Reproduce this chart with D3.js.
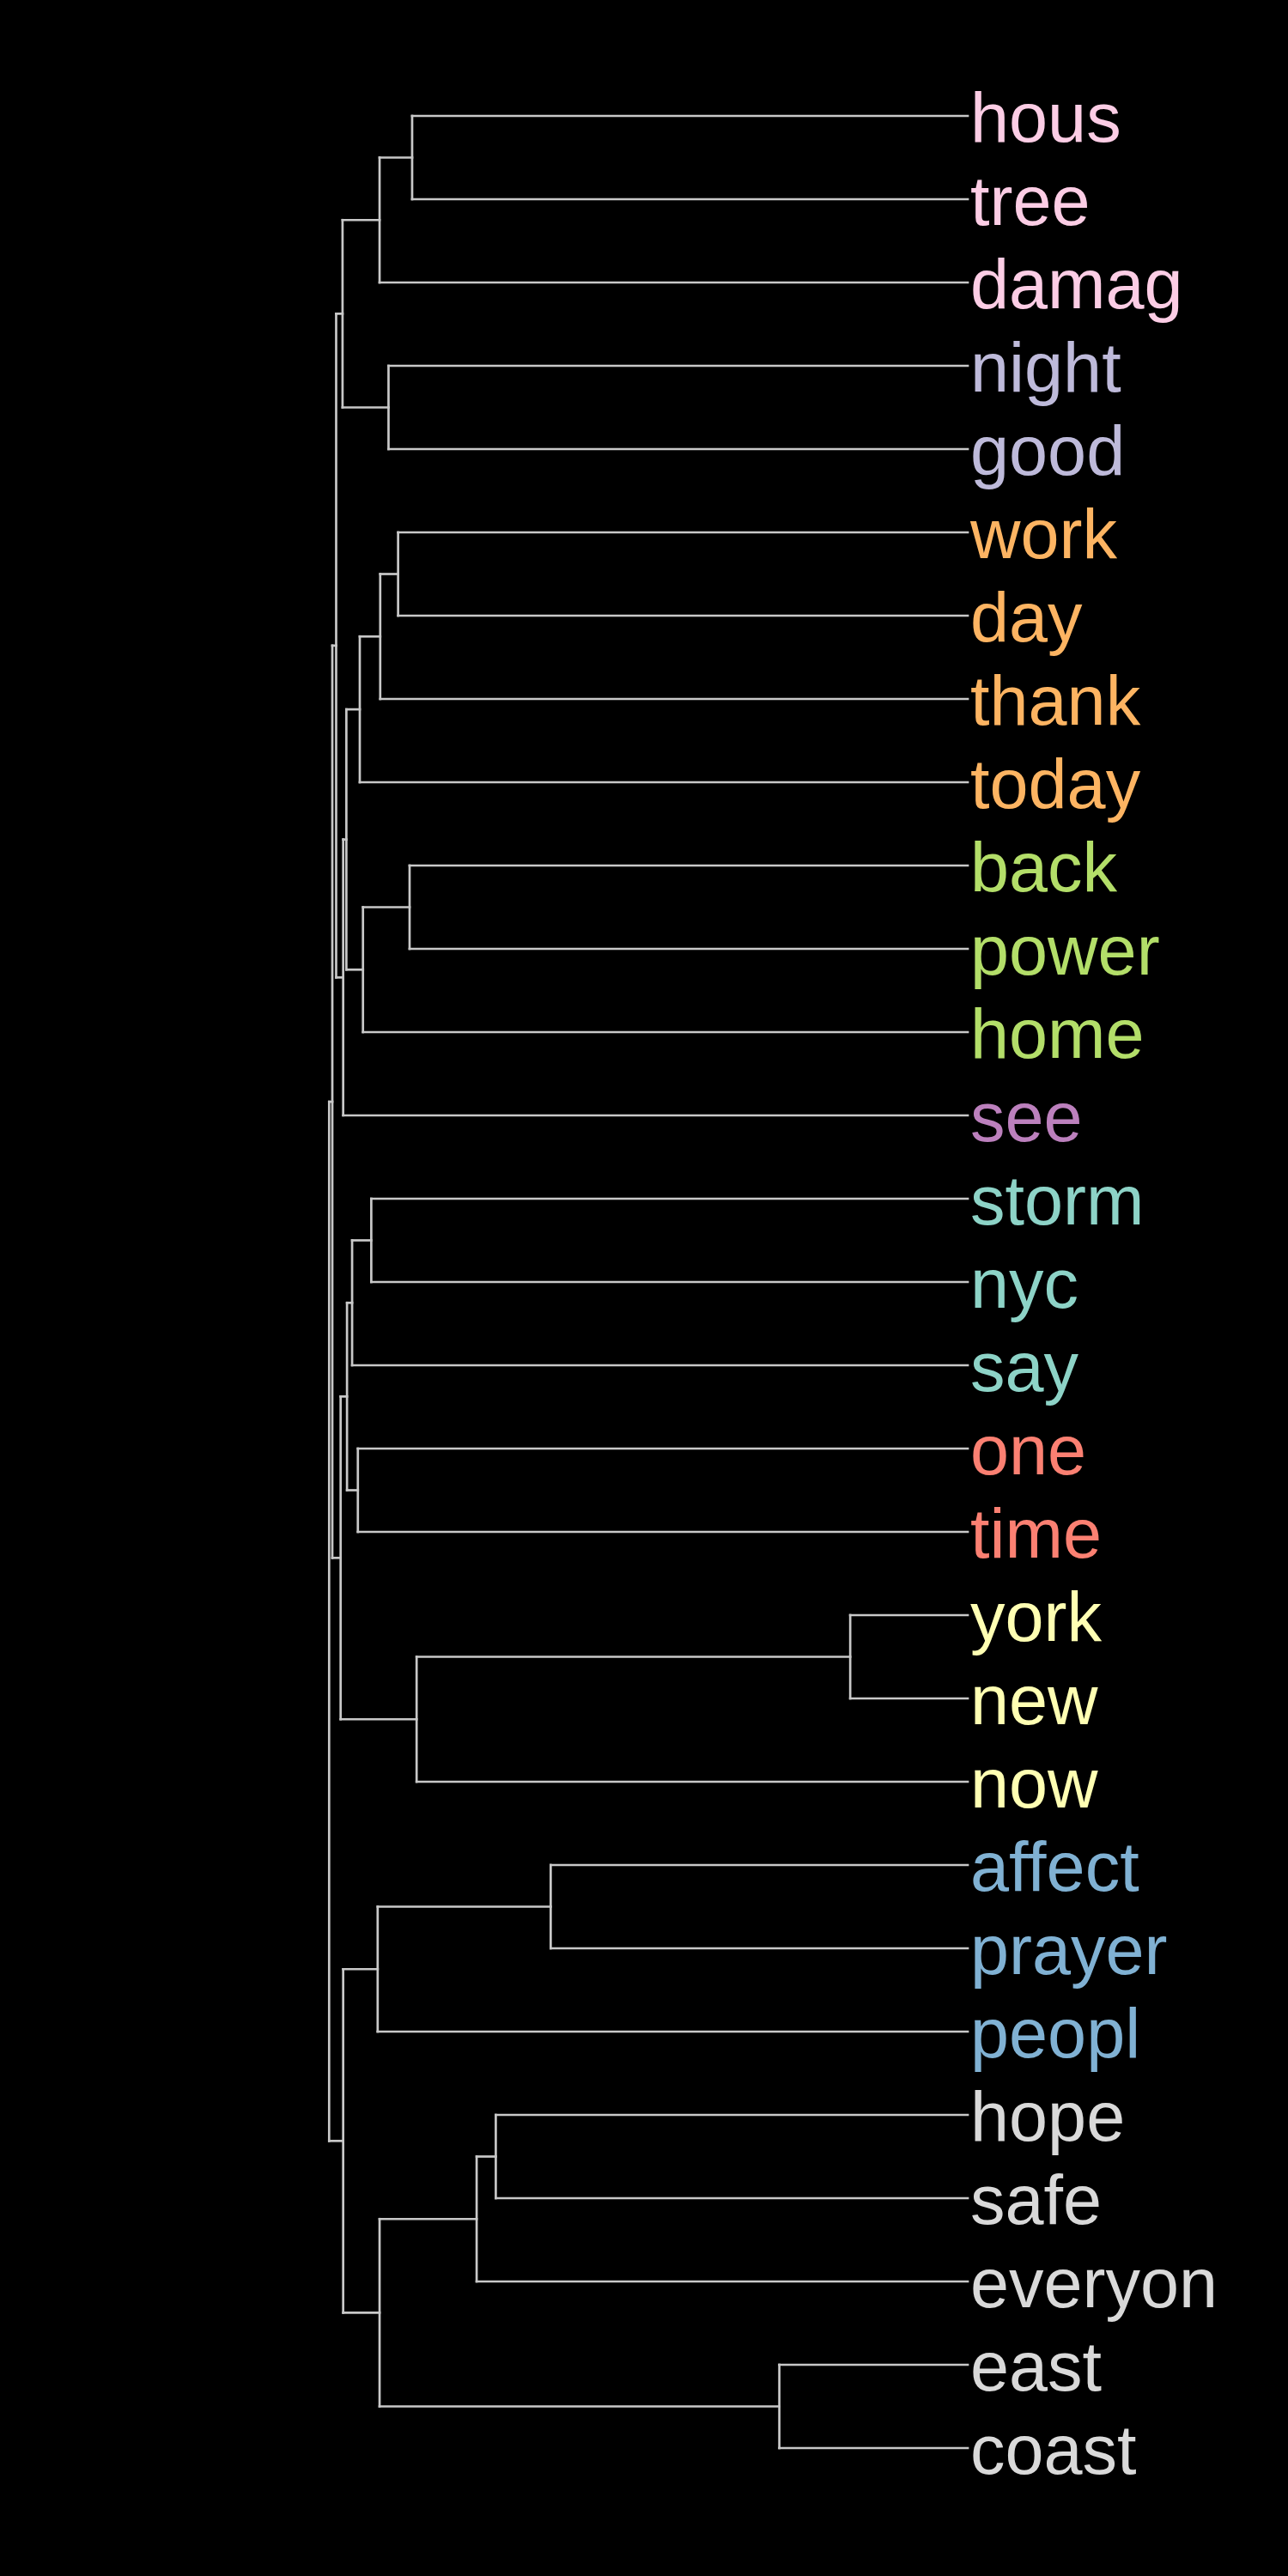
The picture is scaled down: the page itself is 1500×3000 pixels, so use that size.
<!DOCTYPE html>
<html>
<head>
<meta charset="utf-8">
<script src="https://cdn.jsdelivr.net/npm/d3@7"></script>
<style>
  html, body { margin: 0; padding: 0; background: #000; }
  svg { display: block; }
</style>
</head>
<body>
<div id="chart"></div>
<script>
// ---- Data ----
const leafLabels = ["hous","tree","damag","night","good","work","day","thank","today",
  "back","power","home","see","storm","nyc","say","one","time","york","new","now",
  "affect","prayer","peopl","hope","safe","everyon","east","coast"];
const leafGroup = [0,0,0,1,1,2,2,2,2,3,3,3,4,5,5,5,6,6,7,7,7,8,8,8,9,9,9,9,9];
const groupColors = ["#fccde5","#bebada","#fdb462","#b3de69","#bc80bd",
  "#8dd3c7","#fb8072","#ffffb3","#80b1d3","#d9d9d9"];

// merges (hclust-like): names refer to leaves, "#k" to merge k (1-based)
const mergeLeft  = ["york","east","affect","hope","#4","#1","hous","back","work","night",
  "#9","#7","#5","#3","storm","#8","#11","one","#15","#19","#17","#21","#14","#12","#20","#24","#26","#27"];
const mergeRight = ["new","coast","prayer","safe","everyon","now","tree","power","day","good",
  "thank","damag","#2","peopl","nyc","home","today","time","say","#18","#16","see","#13","#10","#6","#22","#25","#23"];
const mergeHeight = [0.184,0.295,0.653,0.739,0.769,0.863,0.870,0.874,0.892,0.907,
  0.920,0.921,0.921,0.924,0.934,0.947,0.952,0.955,0.964,0.972,0.973,0.978,0.978,0.979,0.982,0.989,0.995,1.000];

// ---- Layout ----
const W = 1500, H = 3000;
const svg = d3.select("#chart").append("svg").attr("width", W).attr("height", H)
  .style("background", "#000");

const yScale = d3.scalePoint().domain(leafLabels).range([135, 2851]);
const xScale = d3.scaleLinear().domain([0, 1]).range([1127, 383.3]);
const color = d3.scaleOrdinal().domain(d3.range(groupColors.length)).range(groupColors);

// build tree
const nodes = {};
leafLabels.forEach((l, i) => { nodes[l] = { name: l, height: 0, group: leafGroup[i] }; });
mergeLeft.forEach((l, i) => {
  nodes["#" + (i + 1)] = { name: "#" + (i + 1), height: mergeHeight[i],
    children: [nodes[l], nodes[mergeRight[i]]] };
});
const rootData = nodes["#" + mergeLeft.length];
const root = d3.hierarchy(rootData);

root.eachAfter(d => {
  d.px = xScale(d.data.height);
  if (!d.children) d.py = yScale(d.data.name);
  else d.py = (d.children[0].py + d.children[d.children.length - 1].py) / 2;
});

const g = svg.append("g");
const lineColor = "#c8c8c8", lw = 2.7;

root.descendants().filter(d => d.children).forEach(d => {
  const ys = d.children.map(c => c.py);
  g.append("line")
    .attr("x1", d.px).attr("x2", d.px)
    .attr("y1", d3.min(ys)).attr("y2", d3.max(ys))
    .attr("stroke", lineColor).attr("stroke-width", lw).attr("stroke-linecap", "square");
  d.children.forEach(c => {
    g.append("line")
      .attr("x1", d.px).attr("x2", c.px)
      .attr("y1", c.py).attr("y2", c.py)
      .attr("stroke", lineColor).attr("stroke-width", lw).attr("stroke-linecap", "square");
  });
});

// labels
g.selectAll("text.leaf").data(root.leaves()).join("text")
  .attr("class", "leaf")
  .attr("x", d => d.px + 3)
  .attr("y", d => d.py)
  .attr("dy", "0.37em")
  .attr("fill", d => color(d.data.group))
  .style("font-family", "'Liberation Sans', Arial, Helvetica, sans-serif")
  .style("font-size", "81px")
  .text(d => d.data.name);
</script>
</body>
</html>
